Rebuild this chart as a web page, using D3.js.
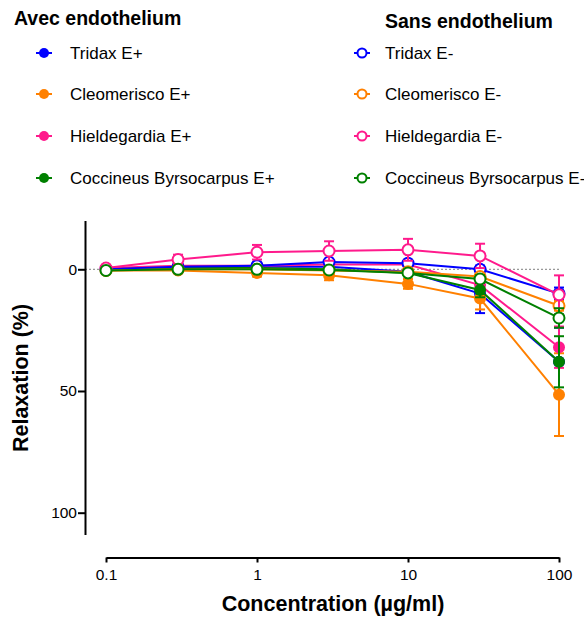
<!DOCTYPE html>
<html><head><meta charset="utf-8">
<script src="https://cdn.jsdelivr.net/npm/d3@7"></script>
<style>body{margin:0;background:#fff;font-family:"Liberation Sans",Arial,sans-serif}</style>
</head><body>
<svg id="c" width="584" height="622"></svg>
<script>
const concentrations = [0.1, 0.3, 1, 3, 10, 30, 100];
const seriesNames = ["Tridax E+","Cleomerisco E+","Hieldegardia E+","Coccineus Byrsocarpus E+",
                     "Tridax E-","Cleomerisco E-","Hieldegardia E-","Coccineus Byrsocarpus E-"];
const tridaxEp = [0, -1, -1, -1, 1, 10, 38];
const tridaxEpErr = [0.5, 0.8, 1, 1.2, 1.5, 8, 14];
const cleoEp = [0.5, 0.5, 1.5, 2.5, 6, 12, 51.5];
const cleoEpErr = [0.5, 0.5, 1.5, 2, 2, 4.5, 17];
const hieldEp = [-0.5, -1.5, -1.5, -2, -2, 6.5, 32];
const hieldEpErr = [0.5, 0.5, 0.5, 1, 1.5, 2, 8.5];
const coccEp = [0, -0.5, -0.5, 0, 1.5, 8.5, 38];
const coccEpErr = [0.3, 0.5, 0.5, 0.5, 1, 3, 10.5];
const tridaxEm = [0, -1, -1.5, -3, -2.5, 0, 10];
const tridaxEmErr = [0.3, 0.5, 0.8, 1, 1.2, 1.5, 2.5];
const cleoEm = [0.5, 0, 0, 0.5, 1, 3, 15];
const cleoEmErr = [0.3, 0.5, 0.5, 0.5, 0.8, 1, 2];
const hieldEm = [-0.5, -4, -7, -7.5, -8, -5.5, 10.5];
const hieldEmErr = [0.5, 2, 3, 4, 4.5, 5, 8];
const coccEm = [0.5, 0, 0, 0.3, 1.5, 4, 20];
const coccEmErr = [0.3, 0.5, 0.5, 0.5, 0.8, 1.5, 4];
const xTicks = [0.1, 1, 10, 100];
const xTickLabels = ["0.1", "1", "10", "100"];
const yTicks = [0, 50, 100];

const colors = ["#0000ff", "#ff8000", "#ff1a8c", "#008000"];
const values = [tridaxEp, cleoEp, hieldEp, coccEp, tridaxEm, cleoEm, hieldEm, coccEm];
const errs = [tridaxEpErr, cleoEpErr, hieldEpErr, coccEpErr, tridaxEmErr, cleoEmErr, hieldEmErr, coccEmErr];
const series = seriesNames.map((n, i) => ({
  name: n, color: colors[i % 4], open: i >= 4,
  pts: concentrations.map((c, j) => ({c, v: values[i][j], e: errs[i][j]}))
}));

const svg = d3.select("#c");
const x = d3.scaleLog().domain([0.1, 100]).range([106, 559]);
const y = d3.scaleLinear().domain([-20, 109]).range([220.6, 534.6]);

// zero reference line
svg.append("line").attr("x1", 85).attr("x2", x(100)).attr("y1", y(0)).attr("y2", y(0))
  .attr("stroke", "#999").attr("stroke-width", 1.2).attr("stroke-dasharray", "2,2");

// axes
const yAxis = d3.axisLeft(y).tickValues(yTicks).tickSize(7).tickSizeOuter(0);
const gy = svg.append("g").attr("transform", "translate(85,0)").call(yAxis);
gy.select(".domain").attr("stroke-width", 2);
gy.selectAll(".tick line").attr("stroke-width", 2);
gy.selectAll(".tick text").attr("font-size", 15.5).attr("font-family", "Liberation Sans, Arial").attr("fill", "#000").attr("x", -8);

const xAxis = d3.axisBottom(x).tickValues(xTicks).tickFormat((d, i) => xTickLabels[i]).tickSize(5).tickSizeOuter(0);
const gx = svg.append("g").attr("transform", "translate(0,557.5)").call(xAxis);
gx.select(".domain").attr("stroke-width", 2);
gx.selectAll(".tick line").attr("stroke-width", 2);
gx.selectAll(".tick text").attr("font-size", 15.5).attr("font-family", "Liberation Sans, Arial").attr("fill", "#000").attr("dy", "0.95em");

// axis titles
svg.append("text").attr("x", 333).attr("y", 611).attr("text-anchor", "middle")
  .attr("font-weight", "bold").attr("font-size", 21.5).text("Concentration (µg/ml)");
svg.append("text").attr("transform", "translate(28,378) rotate(-90)").attr("text-anchor", "middle")
  .attr("font-weight", "bold").attr("font-size", 21.5).text("Relaxation (%)");

// series
const line = d3.line().x(d => x(d.c)).y(d => y(d.v));
series.forEach(s => {
  const g = svg.append("g");
  g.append("path").attr("d", line(s.pts)).attr("fill", "none").attr("stroke", s.color).attr("stroke-width", 2);
  s.pts.forEach(p => {
    const cx = x(p.c);
    g.append("line").attr("x1", cx).attr("x2", cx).attr("y1", y(p.v - p.e)).attr("y2", y(p.v + p.e))
      .attr("stroke", s.color).attr("stroke-width", 2);
    [p.v - p.e, p.v + p.e].forEach(v => g.append("line").attr("x1", cx - 5).attr("x2", cx + 5)
      .attr("y1", y(v)).attr("y2", y(v)).attr("stroke", s.color).attr("stroke-width", 2));
  });
  g.selectAll("circle").data(s.pts).join("circle")
    .attr("cx", d => x(d.c)).attr("cy", d => y(d.v))
    .attr("r", s.open ? 5.5 : 6)
    .attr("fill", s.open ? "#fff" : s.color)
    .attr("stroke", s.color).attr("stroke-width", s.open ? 2 : 0);
});

// legend
svg.append("text").attr("x", 14).attr("y", 25).attr("font-weight", "bold").attr("font-size", 19.5).text("Avec endothelium");
svg.append("text").attr("x", 385).attr("y", 28).attr("font-weight", "bold").attr("font-size", 19.5).text("Sans endothelium");
const rowY = [53, 94, 136, 178];
series.forEach((s, i) => {
  const col = s.open ? 1 : 0;
  const r = i % 4;
  const sx = col ? 362 : 44;
  const tx = col ? 385 : 70;
  const g = svg.append("g");
  g.append("line").attr("x1", sx - 8).attr("x2", sx + 8).attr("y1", rowY[r]).attr("y2", rowY[r])
    .attr("stroke", s.color).attr("stroke-width", 2);
  g.append("circle").attr("cx", sx).attr("cy", rowY[r]).attr("r", s.open ? 4.5 : 5)
    .attr("fill", s.open ? "#fff" : s.color).attr("stroke", s.color).attr("stroke-width", s.open ? 2 : 0);
  g.append("text").attr("x", tx).attr("y", rowY[r]).attr("dy", "0.36em").attr("font-size", 17).text(s.name);
});
</script>
</body></html>
